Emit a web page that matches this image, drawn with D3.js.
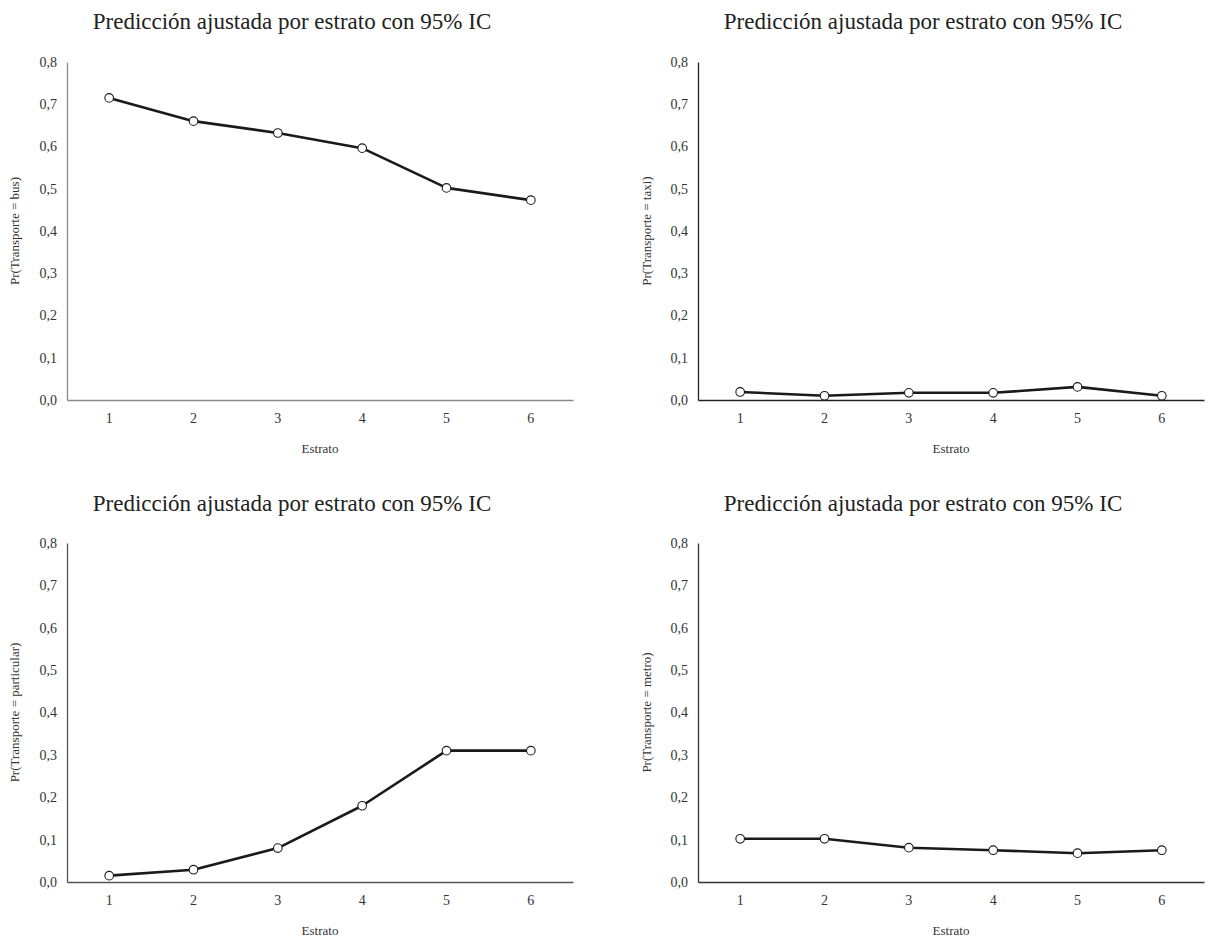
<!DOCTYPE html>
<html>
<head>
<meta charset="utf-8">
<script src="https://cdn.jsdelivr.net/npm/d3@7"></script>
<style>
  body { margin: 0; background: #fff; }
  svg { display: block; font-family: "Liberation Serif", "DejaVu Serif", serif; }
</style>
</head>
<body>
<svg id="chart" width="1210" height="937"></svg>
<script>
// --- Data
const estratos = [1, 2, 3, 4, 5, 6];
const yTicks = [0, 0.1, 0.2, 0.3, 0.4, 0.5, 0.6, 0.7, 0.8];
const title = "Predicción ajustada por estrato con 95% IC";

const bus = [0.715, 0.660, 0.632, 0.596, 0.502, 0.473];
const taxi = [0.019, 0.010, 0.017, 0.017, 0.031, 0.010];
const particular = [0.015, 0.029, 0.080, 0.180, 0.310, 0.310];
const metro = [0.102, 0.102, 0.081, 0.075, 0.068, 0.075];

const svg = d3.select("#chart");
const fmt = d => d3.format(".1f")(d).replace(".", ",");
const font = "'Liberation Serif', 'DejaVu Serif', serif";

// --- Panels (layout only)
const panels = [
  { values: bus, label: "Pr(Transporte = bus)", left: 67, right: 573, top: 62, bottom: 400, titleX: 292, titleY: 29, labelX: 14, axisColor: "#8a8a8a" },
  { values: taxi, label: "Pr(Transporte = taxi)", left: 698, right: 1204, top: 62, bottom: 400, titleX: 923, titleY: 29, labelX: 646, axisColor: "#222" },
  { values: particular, label: "Pr(Transporte = particular)", left: 67, right: 573, top: 543, bottom: 882, titleX: 292, titleY: 511, labelX: 14, axisColor: "#555" },
  { values: metro, label: "Pr(Transporte = metro)", left: 698, right: 1204, top: 543, bottom: 882, titleX: 923, titleY: 511, labelX: 646, axisColor: "#333" }
];

panels.forEach(p => {
  const g = svg.append("g");

  const x = d3.scaleBand().domain(estratos).range([p.left, p.right]);
  const y = d3.scaleLinear().domain([0, 0.8]).range([p.bottom, p.top]);

  // --- Title
  g.append("text")
    .attr("x", p.titleX)
    .attr("y", p.titleY)
    .attr("text-anchor", "middle")
    .style("font-size", "23px")
    .attr("fill", "#222")
    .text(title);

  // --- Y axis
  const yAxis = g.append("g")
    .attr("transform", `translate(${p.left},0)`)
    .call(d3.axisLeft(y).tickValues(yTicks).tickFormat(fmt).tickSize(0).tickPadding(10))
    .attr("font-family", font)
    .attr("font-size", 14);
  yAxis.select(".domain").attr("stroke", p.axisColor).attr("stroke-width", 1.3);
  yAxis.selectAll("text").attr("fill", "#333");

  // --- X axis
  const xAxis = g.append("g")
    .attr("transform", `translate(0,${p.bottom})`)
    .call(d3.axisBottom(x).tickSize(0).tickPadding(13))
    .attr("font-family", font)
    .attr("font-size", 14);
  xAxis.select(".domain").attr("stroke", p.axisColor).attr("stroke-width", 1.3);
  xAxis.selectAll("text").attr("fill", "#333");

  // --- Axis titles
  g.append("text")
    .attr("x", (p.left + p.right) / 2)
    .attr("y", p.bottom + 53)
    .attr("text-anchor", "middle")
    .style("font-size", "13px")
    .attr("fill", "#333")
    .text("Estrato");

  g.append("text")
    .attr("transform", `translate(${p.labelX},${(p.top + p.bottom) / 2}) rotate(-90)`)
    .attr("text-anchor", "middle")
    .attr("dy", "0.35em")
    .style("font-size", "13px")
    .attr("fill", "#333")
    .text(p.label);

  // --- Line and markers
  const pts = estratos.map((e, i) => [x(e) + x.bandwidth() / 2, y(p.values[i])]);

  g.append("path")
    .attr("d", d3.line()(pts))
    .attr("fill", "none")
    .attr("stroke", "#1a1a1a")
    .attr("stroke-width", 2.6)
    .attr("stroke-linejoin", "round");

  g.selectAll(".pt")
    .data(pts)
    .enter()
    .append("circle")
    .attr("class", "pt")
    .attr("cx", d => d[0])
    .attr("cy", d => d[1])
    .attr("r", 4.3)
    .attr("fill", "#fff")
    .attr("stroke", "#1a1a1a")
    .attr("stroke-width", 1.1);
});
</script>
</body>
</html>
